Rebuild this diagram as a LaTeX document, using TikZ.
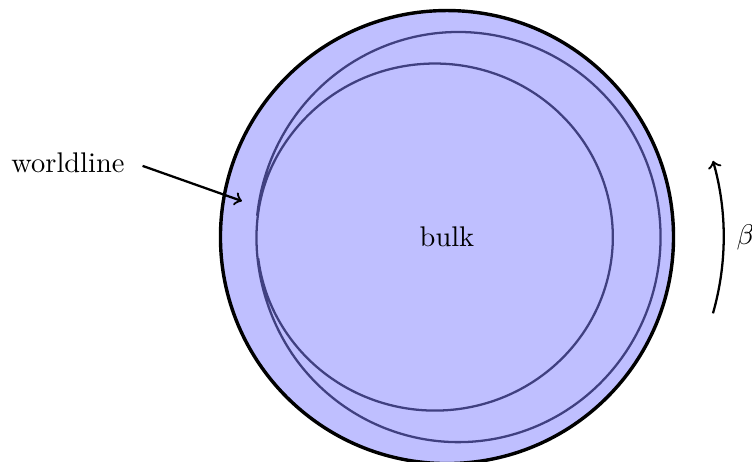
\documentclass[tikz,border=0pt]{standalone}
\usepackage{amsmath}
\usepackage{amssymb}
\usepackage{tikz}

\definecolor{ringcol}{RGB}{64,64,128}

\begin{document}
\begin{tikzpicture}[declare function={wb(\t)=(1-cos(180*min(max((\t-500)/80,0),1)))/2;}]
			\useasboundingbox (-5.525,-2.769) rectangle (3.770,2.930);
			% Bulk
			\draw[very thick, fill=blue!25] (0,0) circle (2.8);
			\node (bulk) at (0,0) {bulk};
			% Worldline, winding twice
			\draw[thick, ringcol] plot[domain=187:894, samples=300, smooth, variable=\t]
				({-0.15+0.29*wb(\t)+(2.2+0.3*wb(\t))*cos(\t)}, {(2.145+0.39*wb(\t))*sin(\t)});
			\node (wl) at (-4.685,0.915) {worldline};
			\coordinate (hit) at (-2.534,0.445);
			\draw[thick, ->, shorten <=3pt] (wl.east) -- (hit);
			% Thermal circle
			\coordinate (b0) at (-16:3.42);
			\draw[thick, ->] (b0) arc[start angle=-16, end angle=16, radius=3.42];
			\node (beta) at (3.69,0) {$\beta$};
		\end{tikzpicture}
\end{document}
